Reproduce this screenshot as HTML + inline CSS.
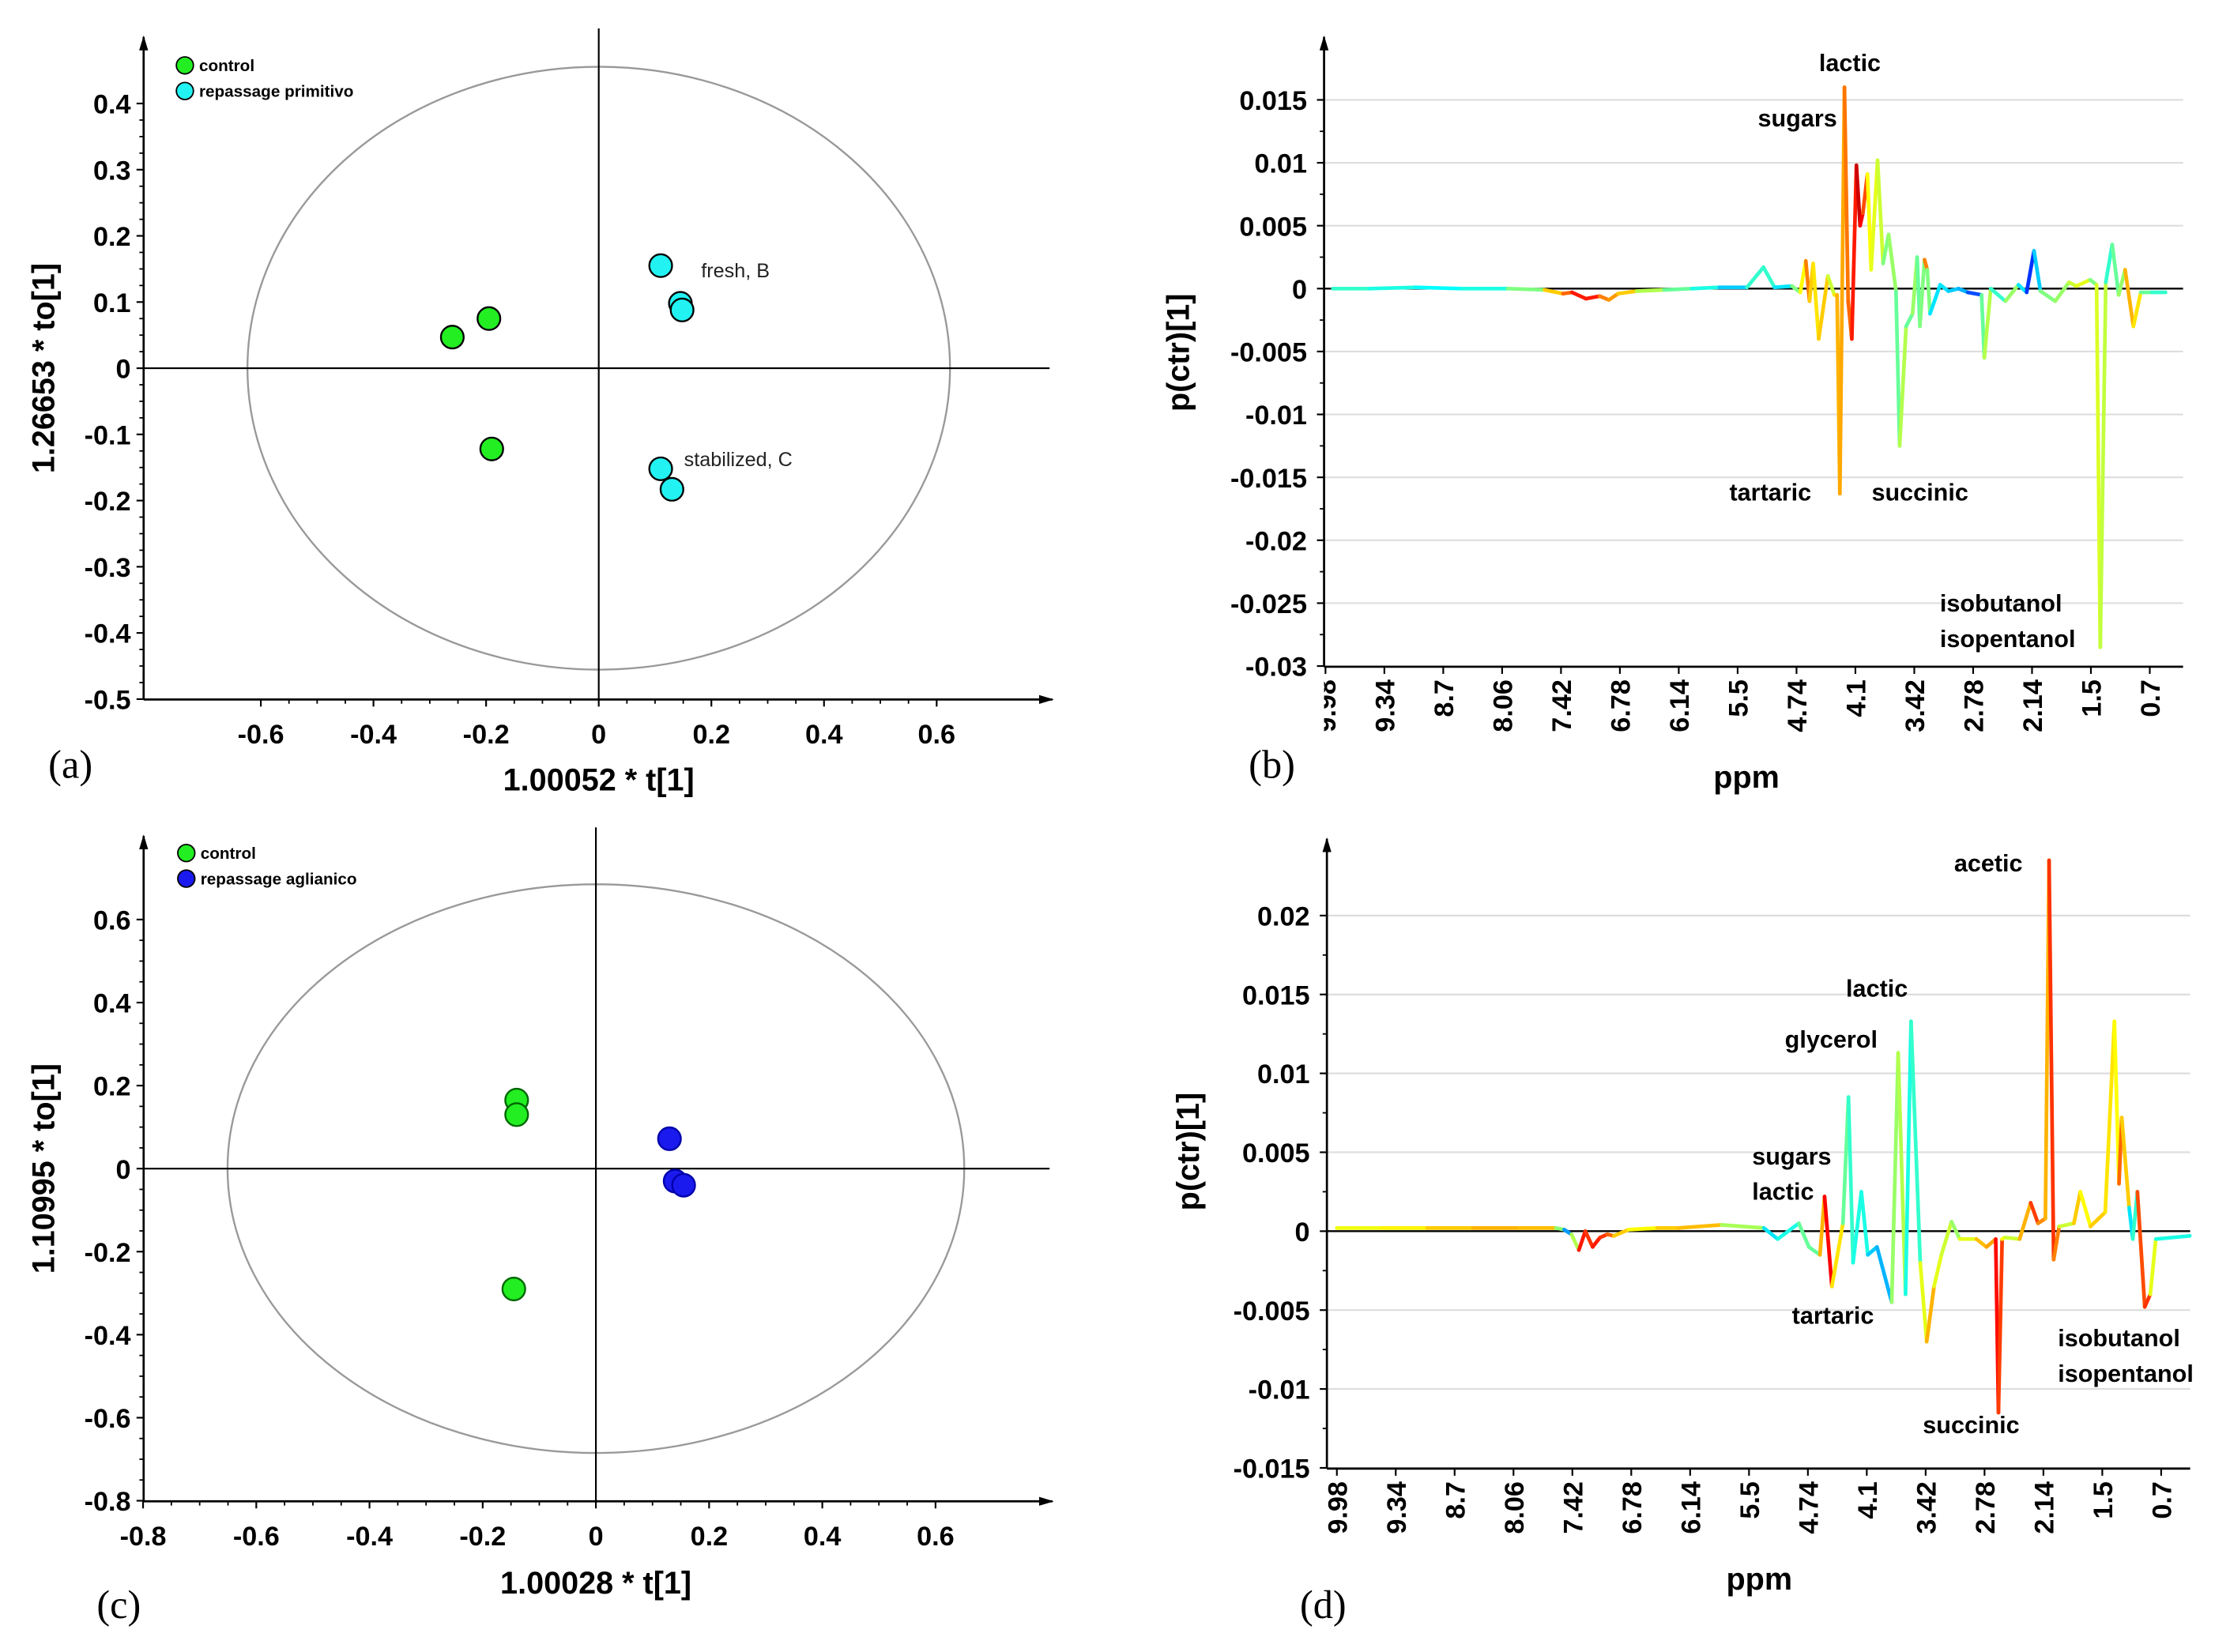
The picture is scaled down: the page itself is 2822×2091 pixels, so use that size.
<!DOCTYPE html>
<html><head><meta charset="utf-8"><style>
html,body{margin:0;padding:0;background:#fff;}
svg{display:block;}
text{font-family:"Liberation Sans",sans-serif;}
.tk{font-size:19px;font-weight:bold;fill:#000;}
.ttl{font-size:22px;font-weight:bold;fill:#000;}
.lab{font-family:"Liberation Serif",serif;font-size:28px;fill:#000;}
.ann{font-size:17px;font-weight:bold;fill:#000;}
.leg{font-size:11.5px;font-weight:bold;fill:#000;}
</style></head><body>
<svg id="root" width="2822" height="2091" viewBox="0 0 1568 1162" preserveAspectRatio="none" xmlns="http://www.w3.org/2000/svg">
<defs>
<marker id="arr" viewBox="0 0 10 10" refX="9" refY="5" markerWidth="7" markerHeight="7" orient="auto"><path d="M0,2 L10,5 L0,8 z" fill="#000"/></marker>
<clipPath id="clipB"><rect x="931" y="470" width="620" height="70"/></clipPath>
</defs>
<g id="pa"></g>
<g id="pb"></g>
<g id="pc"></g>
<g id="pd"></g>
</svg>
<script>
// ---------- DATA ----------
// Panel a (score plot)
const aControlT = [-0.26, -0.195, -0.19];
const aControlTo = [0.047, 0.075, -0.122];
const aRepT = [0.11, 0.145, 0.148, 0.11, 0.13];
const aRepTo = [0.155, 0.098, 0.088, -0.152, -0.183];
const aXTicks = [-0.6, -0.4, -0.2, 0, 0.2, 0.4, 0.6];
const aYTicks = [0.4, 0.3, 0.2, 0.1, 0, -0.1, -0.2, -0.3, -0.4, -0.5];
// Panel c (score plot)
const cControlT = [-0.14, -0.14, -0.145];
const cControlTo = [0.165, 0.13, -0.29];
const cRepT = [0.13, 0.14, 0.155];
const cRepTo = [0.072, -0.03, -0.04];
const cXTicks = [-0.8, -0.6, -0.4, -0.2, 0, 0.2, 0.4, 0.6];
const cYTicks = [0.6, 0.4, 0.2, 0, -0.2, -0.4, -0.6, -0.8];
// Panel b (loadings)
const ppmTickLabels = ["9.98","9.34","8.7","8.06","7.42","6.78","6.14","5.5","4.74","4.1","3.42","2.78","2.14","1.5","0.7"];
const bYTicks = [0.015, 0.01, 0.005, 0, -0.005, -0.01, -0.015, -0.02, -0.025, -0.03];
const bPpm = [9.9,9.5,9.0,8.5,8.0,7.6,7.4,7.3,7.15,7.0,6.9,6.8,6.6,6.3,6.0,5.7,5.4,5.22,5.1,4.91,4.82,4.76,4.72,4.68,4.62,4.52,4.45,4.42,4.39,4.34,4.30,4.26,4.21,4.17,4.14,4.09,4.05,3.98,3.92,3.86,3.78,3.74,3.67,3.60,3.55,3.52,3.47,3.44,3.41,3.30,3.21,3.10,3.00,2.85,2.82,2.75,2.59,2.45,2.36,2.28,2.21,2.05,1.90,1.82,1.67,1.60,1.56,1.50,1.43,1.36,1.29,1.20,1.12,1.0,0.85];
const bVal = [0,0,0.0001,0,0,-0.0001,-0.0004,-0.0003,-0.0008,-0.0006,-0.0009,-0.0004,-0.0002,-0.0001,0,0.0001,0.0001,0.0017,0.0001,0.0002,-0.0003,0.0022,-0.001,0.002,-0.004,0.001,-0.0005,-0.0005,-0.0163,0.016,-0.001,-0.004,0.0098,0.005,0.006,0.0091,0.0015,0.0102,0.002,0.0043,-0.0002,-0.0125,-0.003,-0.002,0.0025,-0.003,0.0023,0.0015,-0.002,0.0003,-0.0002,0,-0.0003,-0.0005,-0.0055,0,-0.001,0.0003,-0.0003,0.003,-0.0002,-0.001,0.0005,0.0002,0.0007,0.0003,-0.0285,0.0005,0.0035,-0.0005,0.0015,-0.003,-0.0003,-0.0003,-0.0003];
const bCorr = [0.4,0.45,0.35,0.4,0.4,0.6,0.75,0.8,0.9,0.8,0.7,0.75,0.6,0.5,0.45,0.35,0.3,0.55,0.3,0.4,0.6,0.65,0.85,0.5,0.8,0.55,0.6,0.7,0.7,0.72,0.8,0.75,0.95,0.9,0.85,0.75,0.5,0.7,0.45,0.55,0.5,0.45,0.65,0.3,0.75,0.2,0.8,0.7,0.3,0.4,0.3,0.35,0.25,0.15,0.8,0.3,0.55,0.5,0.2,0.15,0.5,0.5,0.55,0.6,0.6,0.4,0.78,0.35,0.5,0.45,0.6,0.8,0.5,0.45,0.4];
// Panel d (loadings)
const dYTicks = [0.02, 0.015, 0.01, 0.005, 0, -0.005, -0.01, -0.015];
const dPpm = [9.98,9.5,9.0,8.5,8.0,7.6,7.51,7.43,7.35,7.28,7.20,7.12,7.04,6.97,6.81,6.5,6.27,5.8,5.34,5.19,4.96,4.85,4.73,4.68,4.60,4.48,4.42,4.37,4.28,4.21,4.11,3.95,3.88,3.80,3.74,3.64,3.57,3.49,3.41,3.30,3.21,3.03,2.92,2.82,2.79,2.75,2.72,2.56,2.44,2.36,2.28,2.24,2.19,2.13,1.97,1.90,1.79,1.63,1.53,1.48,1.45,1.37,1.33,1.28,1.20,1.14,1.08,0.71];
const dVal = [0.0002,0.0002,0.0002,0.0002,0.0002,0.0002,0.0001,-0.0002,-0.0012,0,-0.001,-0.0004,-0.0002,-0.0003,0.0001,0.0002,0.0002,0.0004,0.0002,-0.0005,0.0005,-0.001,-0.0015,0.0022,-0.0035,0.0005,0.0085,-0.002,0.0025,-0.0015,-0.001,-0.0045,0.0113,-0.004,0.0133,-0.002,-0.007,-0.0035,-0.0015,0.0006,-0.0005,-0.0005,-0.001,-0.0005,-0.0115,-0.0005,-0.0004,-0.0005,0.0018,0.0005,0.0008,0.0235,-0.0018,0.0003,0.0005,0.0025,0.0003,0.0012,0.0133,0.003,0.0072,0.0015,-0.0005,0.0025,-0.0048,-0.004,-0.0005,-0.0003];
const dCorr = [0.6,0.62,0.65,0.7,0.7,0.68,0.35,0.2,0.9,0.8,0.85,0.85,0.8,0.75,0.6,0.65,0.7,0.68,0.4,0.3,0.5,0.45,0.5,0.9,0.85,0.45,0.5,0.35,0.45,0.35,0.3,0.3,0.75,0.35,0.45,0.4,0.8,0.6,0.6,0.55,0.5,0.7,0.68,0.75,0.98,0.65,0.6,0.55,0.85,0.78,0.7,0.7,0.95,0.55,0.6,0.75,0.5,0.85,0.45,0.8,0.75,0.6,0.1,0.75,0.85,0.8,0.4,0.4];

// ---------- HELPERS ----------
const NS = "http://www.w3.org/2000/svg";
function mk(parent, tag, attrs, txt) {
  const e = document.createElementNS(NS, tag);
  for (const k in attrs) e.setAttribute(k, attrs[k]);
  if (txt !== undefined) e.textContent = txt;
  parent.appendChild(e);
  return e;
}
function jet(t) {
  t = Math.max(0, Math.min(1, t));
  const r = Math.round(255 * Math.max(0, Math.min(1, 1.5 - Math.abs(4 * t - 3))));
  const g = Math.round(255 * Math.max(0, Math.min(1, 1.5 - Math.abs(4 * t - 2))));
  const b = Math.round(255 * Math.max(0, Math.min(1, 1.5 - Math.abs(4 * t - 1))));
  return `rgb(${r},${g},${b})`;
}
function fmt(v) { return v === 0 ? "0" : String(+v.toFixed(3)); }

// ---------- SCORE PLOT ----------
function scorePlot(g, o) {
  const sx = v => o.x0 + v * o.kx;
  const sy = v => o.y0 - v * o.ky;
  const el = mk(g, "ellipse", {cx: o.x0, cy: o.y0, rx: o.rx, ry: o.ry, fill: "none", stroke: "#999", "stroke-width": 1.3});
  
  
  const cv = mk(g, "line", {x1: o.x0, y1: o.top - 6, x2: o.x0, y2: o.bottom, stroke: "#000", "stroke-width": 1.2});
  
  
  const ch = mk(g, "line", {x1: o.left, y1: o.y0, x2: o.right - 2, y2: o.y0, stroke: "#000", "stroke-width": 1.2});
  
  
  const ya = mk(g, "line", {x1: o.left, y1: o.bottom, x2: o.left, y2: o.top, stroke: "#000", "stroke-width": 1.5, "marker-end": "url(#arr)"});
  
  
  const xa = mk(g, "line", {x1: o.left, y1: o.bottom, x2: o.right, y2: o.bottom, stroke: "#000", "stroke-width": 1.5, "marker-end": "url(#arr)"});
  
  
  for (let i = 0; i < o.yTicks.length; i++) {
    const v = o.yTicks[i], y = sy(v);
    mk(g, "line", {x1: o.left - 5, y1: y, x2: o.left, y2: y, stroke: "#000", "stroke-width": 1.2});
    if (i < o.yTicks.length - 1) {
      const step = (o.yTicks[i] - o.yTicks[i + 1]) / 4;
      for (let m = 1; m < 4; m++) mk(g, "line", {x1: o.left - 3, y1: sy(v - m * step), x2: o.left, y2: sy(v - m * step), stroke: "#000", "stroke-width": 1});
    }
    const t = mk(g, "text", {x: o.left - 9, y: y + 7, "text-anchor": "end", class: "tk"}, fmt(v));
    
    
  }
  for (let i = 0; i < o.xTicks.length; i++) {
    const v = o.xTicks[i], x = sx(v);
    mk(g, "line", {x1: x, y1: o.bottom, x2: x, y2: o.bottom + 5, stroke: "#000", "stroke-width": 1.2});
    if (i < o.xTicks.length - 1) {
      const step = (o.xTicks[i + 1] - o.xTicks[i]) / 4;
      for (let m = 1; m < 4; m++) mk(g, "line", {x1: sx(v + m * step), y1: o.bottom, x2: sx(v + m * step), y2: o.bottom + 3, stroke: "#000", "stroke-width": 1});
    }
    const t = mk(g, "text", {x: x, y: o.bottom + 31, "text-anchor": "middle", class: "tk"}, fmt(v));
    
    
  }
  const series = [[o.c1t, o.c1o, o.col1, o.stroke1, 'control-point'], [o.c2t, o.c2o, o.col2, o.stroke2, 'repassage-point']];
  series.forEach(s => {
    for (let i = 0; i < s[0].length; i++) {
      const c = mk(g, "circle", {cx: sx(s[0][i]), cy: sy(s[1][i]), r: 8, fill: s[2], stroke: s[3], "stroke-width": 1.3});
      
      
    }
  });
  const lg = mk(g, "g", {});
  
  
  o.legend.forEach((L, i) => {
    const y = o.legY + i * 18;
    const c = mk(lg, "circle", {cx: o.legX, cy: y, r: 6, fill: L[1], stroke: "#000", "stroke-width": 1});
    
    
    const t = mk(lg, "text", {x: o.legX + 10, y: y + 4, class: "leg"}, L[0]);
    
    
  });
  const xt = mk(g, "text", {x: o.x0, y: o.xTitleY, "text-anchor": "middle", class: "ttl"}, o.xTitle);
  
  
  const yt = mk(g, "text", {x: 0, y: 0, transform: `translate(38,${o.yTitleY}) rotate(-90)`, "text-anchor": "middle", class: "ttl"}, o.yTitle);
  
  
  const pl = mk(g, "text", {x: o.labX, y: o.labY, class: "lab"}, o.lab);
  
  
  (o.notes || []).forEach(n => {
    const t = mk(g, "text", {x: n[0], y: n[1], style: "font-size:14px;fill:#222"}, n[2]);
    
    
  });
}

scorePlot(document.getElementById("pa"), {
  x0: 421, y0: 259, kx: 396, ky: 465.5, rx: 247, ry: 212,
  left: 101, right: 740, top: 26, bottom: 492,
  xTicks: aXTicks, yTicks: aYTicks,
  c1t: aControlT, c1o: aControlTo, col1: "#22ee22", stroke1: "#000",
  c2t: aRepT, c2o: aRepTo, col2: "#22f2f2", stroke2: "#000",
  legend: [["control", "#22ee22"], ["repassage primitivo", "#22f2f2"]], legX: 130, legY: 46,
  xTitle: "1.00052 * t[1]", xTitleY: 556, yTitle: "1.26653 * to[1]", yTitleY: 259,
  lab: "(a)", labX: 34, labY: 547,
  notes: [[493, 195, "fresh, B"], [481, 328, "stabilized, C"]]
});
scorePlot(document.getElementById("pc"), {
  x0: 419, y0: 822, kx: 398, ky: 292, rx: 259, ry: 200,
  left: 101, right: 740, top: 588, bottom: 1056,
  xTicks: cXTicks, yTicks: cYTicks,
  c1t: cControlT, c1o: cControlTo, col1: "#22ee22", stroke1: "#006600",
  c2t: cRepT, c2o: cRepTo, col2: "#1a1aee", stroke2: "#0000aa",
  legend: [["control", "#22ee22"], ["repassage aglianico", "#1a1aee"]], legX: 131, legY: 600,
  xTitle: "1.00028 * t[1]", xTitleY: 1121, yTitle: "1.10995 * to[1]", yTitleY: 822,
  lab: "(c)", labX: 68, labY: 1138
});

// ---------- LOADINGS PLOT ----------
function loadPlot(g, o) {
  const sy = v => o.y0 - v * o.ky;
  const sx = p => o.xStart + (9.98 - p) * o.kp;
  o.yTicks.forEach(v => {
    if (v !== 0) {
      const gl = mk(g, "line", {x1: o.left, y1: sy(v), x2: o.right, y2: sy(v), stroke: "#ddd", "stroke-width": 1.2});
      
      
    }
  });
  for (let i = 0; i < o.yTicks.length; i++) {
    const v = o.yTicks[i], y = sy(v);
    mk(g, "line", {x1: o.left - 5, y1: y, x2: o.left, y2: y, stroke: "#000", "stroke-width": 1.2});
    if (i < o.yTicks.length - 1) {
      const mid = sy((o.yTicks[i] + o.yTicks[i + 1]) / 2);
      mk(g, "line", {x1: o.left - 3, y1: mid, x2: o.left, y2: mid, stroke: "#000", "stroke-width": 1});
    }
    const t = mk(g, "text", {x: o.left - 12, y: y + 7, "text-anchor": "end", class: "tk"}, fmt(v));
    
    
  }
  const xl = mk(g, "g", o.clip ? {"clip-path": o.clip} : {});
  ppmTickLabels.forEach((L, i) => {
    const x = o.tick0 + i * 41.4;
    mk(g, "line", {x1: x, y1: o.bottom, x2: x, y2: o.bottom + 5, stroke: "#000", "stroke-width": 1.2});
    const t = mk(xl, "text", {x: 0, y: 0, transform: `translate(${x + 7},${o.bottom + 9}) rotate(-90)`, "text-anchor": "end", class: "tk"}, L);
    
    
  });
  const z = mk(g, "line", {x1: o.left, y1: o.y0, x2: o.right, y2: o.y0, stroke: "#000", "stroke-width": 1.3});
  
  
  const ya = mk(g, "line", {x1: o.left, y1: o.bottom, x2: o.left, y2: o.top, stroke: "#000", "stroke-width": 1.5, "marker-end": "url(#arr)"});
  
  
  const xa = mk(g, "line", {x1: o.left, y1: o.bottom, x2: o.right, y2: o.bottom, stroke: "#000", "stroke-width": 1.5});
  
  
  const sg = mk(g, "g", {"stroke-linecap": "round"});
  
  
  for (let i = 0; i < o.ppm.length - 1; i++) {
    const s = mk(sg, "line", {x1: sx(o.ppm[i]), y1: sy(o.val[i]), x2: sx(o.ppm[i + 1]), y2: sy(o.val[i + 1]),
      stroke: jet((o.corr[i] + o.corr[i + 1]) / 2), "stroke-width": 2.6});
    
    
  }
  o.anns.forEach(a => {
    const t = mk(g, "text", {x: a[0], y: a[1], class: "ann"}, a[2]);
    
    
  });
  const xt = mk(g, "text", {x: o.xTitleX, y: o.xTitleY, "text-anchor": "middle", class: "ttl"}, "ppm");
  
  
  const yt = mk(g, "text", {x: 0, y: 0, transform: `translate(${o.yTitleX},${o.yTitleY}) rotate(-90)`, "text-anchor": "middle", class: "ttl"}, "p(ctr)[1]");
  
  
  const pl = mk(g, "text", {x: o.labX, y: o.labY, class: "lab"}, o.lab);
  
  
}

loadPlot(document.getElementById("pb"), {
  y0: 203, ky: 8850, left: 931, right: 1535, top: 26, bottom: 469,
  xStart: 932, kp: 64.7, tick0: 932, clip: "url(#clipB)",
  yTicks: bYTicks, ppm: bPpm, val: bVal, corr: bCorr,
  anns: [[1279, 50, "lactic"], [1236, 89, "sugars"], [1216, 352, "tartaric"], [1316, 352, "succinic"], [1364, 430, "isobutanol"], [1364, 455, "isopentanol"]],
  xTitleX: 1228, xTitleY: 554, yTitleX: 836, yTitleY: 248, lab: "(b)", labX: 878, labY: 547
});
loadPlot(document.getElementById("pd"), {
  y0: 866, ky: 11100, left: 933, right: 1540, top: 590, bottom: 1033,
  xStart: 940, kp: 64.7, tick0: 940, clip: null,
  yTicks: dYTicks, ppm: dPpm, val: dVal, corr: dCorr,
  anns: [[1374, 613, "acetic"], [1298, 701, "lactic"], [1255, 737, "glycerol"], [1232, 819, "sugars"], [1232, 844, "lactic"], [1260, 931, "tartaric"], [1352, 1008, "succinic"], [1447, 947, "isobutanol"], [1447, 972, "isopentanol"]],
  xTitleX: 1237, xTitleY: 1118, yTitleX: 843, yTitleY: 810, lab: "(d)", labX: 914, labY: 1138
});
</script>
</body></html>
